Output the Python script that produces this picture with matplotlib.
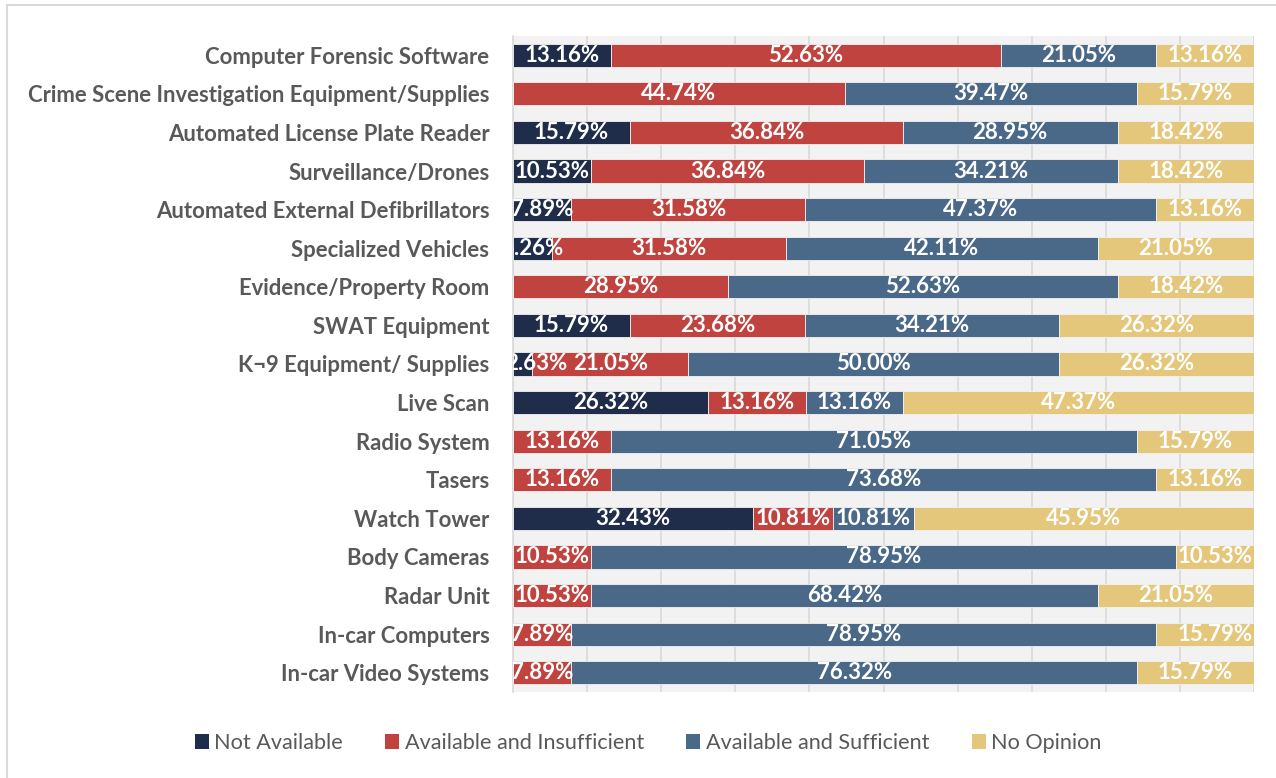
import numpy as np
import matplotlib
matplotlib.use('Agg')
import matplotlib.pyplot as plt
from matplotlib.patches import Rectangle, Patch

# 데이터
categories = ['Computer Forensic Software',
              'Crime Scene Investigation Equipment/Supplies',
              'Automated License Plate Reader',
              'Surveillance/Drones',
              'Automated External Defibrillators',
              'Specialized Vehicles',
              'Evidence/Property Room',
              'SWAT Equipment',
              'K\u00ac9 Equipment/ Supplies',
              'Live Scan',
              'Radio System',
              'Tasers',
              'Watch Tower',
              'Body Cameras',
              'Radar Unit',
              'In-car Computers',
              'In-car Video Systems']

not_available = [13.16, 0, 15.79, 10.53, 7.89, 5.26, 0, 15.79, 2.63, 26.32, 0, 0, 32.43, 0, 0, 0, 0]
avail_insufficient = [52.63, 44.74, 36.84, 36.84, 31.58, 31.58, 28.95, 23.68, 21.05, 13.16, 13.16, 13.16, 10.81, 10.53, 10.53, 7.89, 7.89]
avail_sufficient = [21.05, 39.47, 28.95, 34.21, 47.37, 42.11, 52.63, 34.21, 50.00, 13.16, 71.05, 73.68, 10.81, 78.95, 68.42, 78.95, 76.32]
no_opinion = [13.16, 15.79, 18.42, 18.42, 13.16, 21.05, 18.42, 26.32, 26.32, 47.37, 15.79, 13.16, 45.95, 10.53, 21.05, 15.79, 15.79]

series_names = ['Not Available', 'Available and Insufficient', 'Available and Sufficient', 'No Opinion']
series = [not_available, avail_insufficient, avail_sufficient, no_opinion]
colors = ['#1F2D4B', '#C0433F', '#4A6888', '#E5C77C']

plt.rcParams['font.family'] = ['Lato', 'DejaVu Sans']

fig = plt.figure(figsize=(12.76, 7.78), dpi=100)
ax = fig.add_axes([513/1276, 1 - 692/778, (1254 - 513)/1276, (692 - 36)/778])
ax.set_facecolor('#F2F2F2')

y = np.arange(len(categories))
left = np.zeros(len(categories))
for name, vals, col in zip(series_names, series, colors):
    vals = np.array(vals, dtype=float)
    ax.barh(y, vals, left=left, height=0.6, color=col, edgecolor='#F2F2F2',
            linewidth=0.6, label=name, zorder=3)
    for yi, l, v in zip(y, left, vals):
        if v > 0:
            xc = l + v / 2
            if v < 4:          # 아주 작은 구간은 라벨을 조금 안쪽으로
                xc = l + v + 0.5
            ax.text(xc, yi, f'{v:.2f}%', ha='center', va='center',
                    color='white', fontsize=16, fontweight='bold',
                    clip_on=True, zorder=4)
    left = left + vals

ax.set_xlim(0, 100)
ax.set_ylim(len(categories) - 0.5, -0.5)
ax.set_xticks(np.arange(0, 101, 10))
ax.xaxis.grid(True, color='#D9D9D9', linewidth=1.2, zorder=0)
ax.tick_params(axis='x', bottom=False, labelbottom=False)
ax.tick_params(axis='y', left=False, length=0, pad=17)
ax.set_yticks(y)
ax.set_yticklabels(categories, fontsize=15.9, fontweight='bold', color='#595959')
for s in ['top', 'right', 'bottom']:
    ax.spines[s].set_visible(False)
ax.spines['left'].set_color('#D9D9D9')
ax.spines['left'].set_linewidth(1.2)

# 범례
handles = [Patch(facecolor=c, edgecolor='none') for c in colors]
fig.legend(handles, series_names, loc='center', bbox_to_anchor=(0.508, 1 - 743/778),
           ncol=4, frameon=False, fontsize=15.6, handlelength=0.65, handleheight=0.65,
           handletextpad=0.25, columnspacing=1.95, labelcolor='#595959')

# 바깥 테두리
fig.patches.append(Rectangle((7/1276, -0.05), 1.1, 1 - 5/778 + 0.05, transform=fig.transFigure,
                             fill=False, edgecolor='#D9D9D9', linewidth=1.5))

fig.savefig('out.png', dpi=100)
